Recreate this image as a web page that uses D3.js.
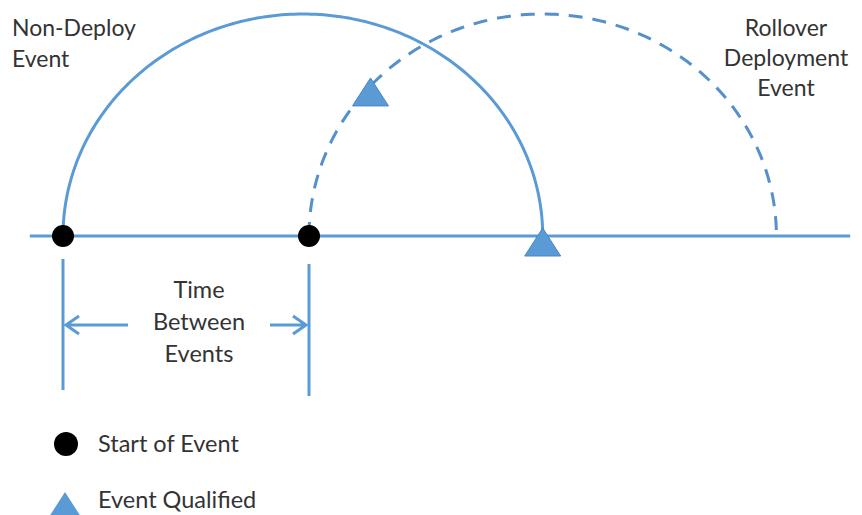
<!DOCTYPE html>
<html><head><meta charset="utf-8">
<script src="https://cdn.jsdelivr.net/npm/d3@7"></script>
<style>
html,body{margin:0;padding:0;background:#fff;}
svg{display:block;}
text{font-family:Lato,"Open Sans",sans-serif;fill:#333;}
</style></head>
<body>
<svg id="c" width="862" height="515"></svg>
<script>
// ---- data ----
const startTimes = [0, 10];            // start of each event (black dots)
const arcEnds = [19.5, 29];            // where each event's arc lands on the axis
const arcNames = ["Non-Deploy Event", "Rollover Deployment Event"];
const qualifiedTimes = [19.5, 12.5];   // event qualified (triangles)
const qualifiedArc = [0, 1];           // which arc each triangle sits on
const axisDomain = [-1.35, 32];
const gapLabel = ["Time", "Between", "Events"];
const leftLabel = ["Non-Deploy", "Event"];
const rightLabel = ["Rollover", "Deployment", "Event"];
const legendLabels = ["Start of Event", "Event Qualified"];

const blue = "#5b9bd5";
const svg = d3.select("#c");
const x = d3.scaleLinear().domain([0, 10]).range([63, 309]);
const y = d3.scaleLinear().domain([0, 1]).range([236, 14]);

// axis line
svg.append("line").attr("x1", x(axisDomain[0])).attr("x2", x(axisDomain[1]))
  .attr("y1", y(0)).attr("y2", y(0)).attr("stroke", blue).attr("stroke-width", 3);

// arcs (half ellipses)
function arcPts(i) {
  const a = startTimes[i], b = arcEnds[i];
  const cx = (a + b) / 2, r = (b - a) / 2;
  return d3.range(0, 181).map(k => {
    const th = Math.PI - k * Math.PI / 180;
    return [x(cx + r * Math.cos(th)), y(Math.sin(th))];
  });
}
function arcY(i, t) {
  const a = startTimes[i], b = arcEnds[i];
  const cx = (a + b) / 2, r = (b - a) / 2;
  const c = Math.max(-1, Math.min(1, (t - cx) / r));
  return y(Math.sqrt(1 - c * c));
}
const line = d3.line();
arcNames.forEach((n, i) => {
  svg.append("path").attr("d", line(arcPts(i))).attr("fill", "none")
    .attr("stroke", i === 1 ? "#5590cc" : blue).attr("stroke-width", 3)
    .attr("stroke-dasharray", i === 1 ? "14,10" : null);
});

// triangles
function tri(px, py) {
  const w = 36, h = 28;
  return `M${px},${py - 8}L${px + w / 2},${py - 8 + h}L${px - w / 2},${py - 8 + h}Z`;
}
qualifiedTimes.forEach((t, i) => {
  const px = x(t), py = arcY(qualifiedArc[i], t);
  svg.append("path").attr("d", tri(px, py)).attr("fill", blue).attr("stroke", "#4a86c0").attr("stroke-width", 1);
});

// start dots
svg.selectAll("circle.s").data(startTimes).join("circle")
  .attr("cx", d => x(d)).attr("cy", y(0)).attr("r", 11).attr("fill", "#000");

// vertical brackets
startTimes.forEach((t, i) => {
  svg.append("line").attr("x1", x(t)).attr("x2", x(t))
    .attr("y1", i === 0 ? 259 : 264).attr("y2", i === 0 ? 390 : 396)
    .attr("stroke", blue).attr("stroke-width", 3);
});
// arrows
const ay = 325;
const xl = x(startTimes[0]) + 3, xr = x(startTimes[1]) - 3;
svg.append("path").attr("d", `M${xl + 62},${ay}L${xl},${ay}M${xl + 13},${ay - 9}L${xl},${ay}L${xl + 13},${ay + 9}`)
  .attr("fill", "none").attr("stroke", blue).attr("stroke-width", 3);
svg.append("path").attr("d", `M${xr - 36},${ay}L${xr},${ay}M${xr - 13},${ay - 9}L${xr},${ay}L${xr - 13},${ay + 9}`)
  .attr("fill", "none").attr("stroke", blue).attr("stroke-width", 3);

const midX = (x(startTimes[0]) + x(startTimes[1])) / 2 + 13;
svg.append("text").attr("text-anchor", "middle").attr("font-size", 23.5)
  .selectAll("tspan").data(gapLabel).join("tspan")
  .attr("x", midX).attr("y", (d, i) => 298 + i * 32).text(d => d);

// top labels
svg.append("text").attr("font-size", 23).selectAll("tspan")
  .data(leftLabel).join("tspan")
  .attr("x", 12).attr("y", (d, i) => 36 + i * 31).text(d => d);
svg.append("text").attr("font-size", 23).attr("text-anchor", "middle").selectAll("tspan")
  .data(rightLabel).join("tspan")
  .attr("x", 786).attr("y", (d, i) => 36 + i * 30).text(d => d);

// legend
svg.append("circle").attr("cx", 66).attr("cy", 444).attr("r", 12).attr("fill", "#000");
svg.append("path").attr("d", tri(65, 500)).attr("fill", blue);
svg.selectAll("text.lg").data(legendLabels).join("text").attr("class", "lg")
  .attr("x", 98).attr("y", (d, i) => 452 + i * 56).attr("font-size", 23.5).text(d => d);
</script>
</body></html>
